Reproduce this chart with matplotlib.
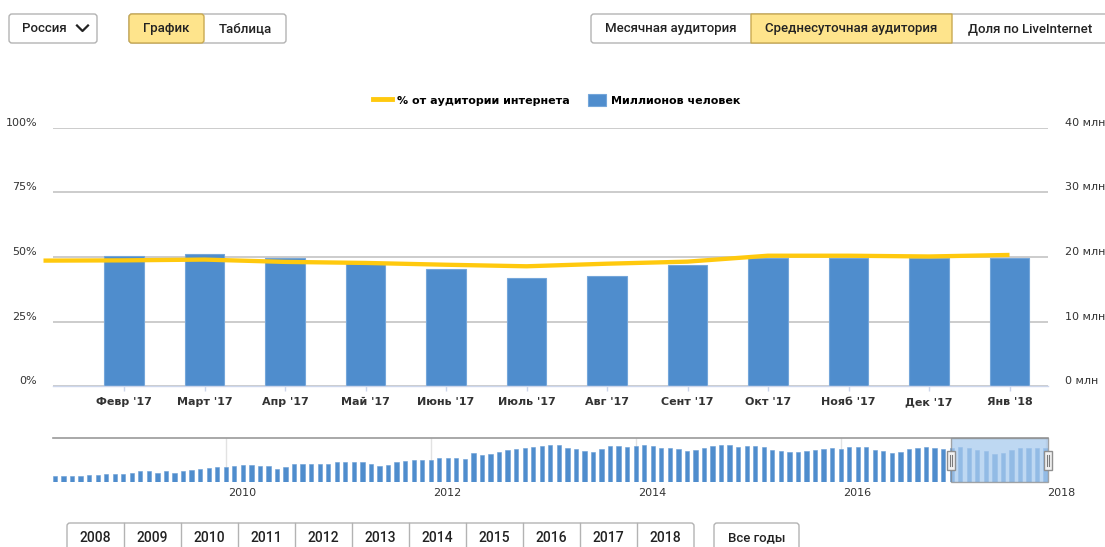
import matplotlib
matplotlib.use("Agg")
import matplotlib.pyplot as plt
import matplotlib.transforms as mtransforms
from matplotlib.patches import FancyBboxPatch, Rectangle
from matplotlib.lines import Line2D

W, H = 1105, 547

# main chart: average daily audience, Feb 2017 - Jan 2018
months = ["Февр '17", "Март '17", "Апр '17", "Май '17", "Июнь '17", "Июль '17",
          "Авг '17", "Сент '17", "Окт '17", "Нояб '17", "Дек '17", "Янв '18"]
audience_mln = [20.1, 20.4, 19.8, 19.1, 18.2, 16.7, 17.1, 18.8, 19.8, 19.8, 19.8, 19.8]
share_prev = 48.6  # Янв '17, only the tail of the line is visible
share_pct = [48.7, 49.0, 48.1, 47.7, 47.0, 46.4, 47.4, 48.2, 50.5, 50.5, 50.2, 50.8]

pct_ticks = [0, 25, 50, 75, 100]
pct_labels = ["0%", "25%", "50%", "75%", "100%"]
mln_ticks = [0, 10, 20, 30, 40]
mln_labels = ["0 млн", "10 млн", "20 млн", "30 млн", "40 млн"]

# navigator: monthly values, May 2008 - Jan 2018
nav_mln = [
    3.5, 3.5, 3.5, 3.5, 4.3, 4.3, 4.9, 4.9, 4.9, 5.5, 6.3, 6.3,
    5.5, 6.3, 5.5, 6.3, 6.9, 7.4, 8.0, 8.6,
    8.6, 9.4, 9.8, 9.8, 9.2, 9.2, 7.8, 8.6, 10.4, 10.4, 10.8, 10.8,
    10.8, 11.8, 11.8, 11.8, 11.8, 10.8, 9.4, 10.2, 11.8, 12.3, 12.9, 12.9,
    12.9, 14.1, 14.1, 14.1, 13.3, 17.2, 15.7, 16.5, 17.8, 18.8, 19.6, 20.2,
    20.8, 21.4, 22.0, 22.0, 20.2, 19.6, 18.4, 17.6, 19.6, 21.4, 21.4, 20.8,
    21.4, 22.0, 21.4, 20.2, 20.2, 19.6, 18.4, 19.0, 20.2, 21.4, 22.0, 22.0,
    20.8, 21.4, 21.4, 20.8, 19.0, 18.4, 17.8, 17.8, 18.4, 19.0, 19.6, 20.2,
    19.6, 20.8, 20.8, 20.8, 19.0, 18.4, 17.2, 17.8, 19.6, 20.2, 20.8, 20.2,
    19.6, 20.1, 20.4, 19.8, 19.1, 18.2, 16.7, 17.1, 18.8, 19.8, 19.8, 19.8,
    19.8,
]
nav_start_year, nav_start_month = 2008, 5
nav_years = [2010, 2012, 2014, 2016, 2018]

year_buttons = ["2008", "2009", "2010", "2011", "2012", "2013",
                "2014", "2015", "2016", "2017", "2018"]

BLUE = "#4f8dcd"
YELLOW = "#ffc90e"
TEXT = "#222222"

fig = plt.figure(figsize=(W / 100, H / 100), dpi=100)
px = mtransforms.Affine2D().scale(1 / W, -1 / H).translate(0, 1) + fig.transFigure


def ax_rect(x0, y0, x1, y1):
    return [x0 / W, 1 - y1 / H, (x1 - x0) / W, (y1 - y0) / H]


def box(x0, y0, x1, y1, fc="white", ec="#b3b3b3", r=3, lw=1.0, z=1):
    fig.add_artist(FancyBboxPatch((x0, y0), x1 - x0, y1 - y0,
                                  boxstyle=f"round,pad=0,rounding_size={r}",
                                  transform=px, fc=fc, ec=ec, lw=lw, zorder=z))


def vline(x, y0, y1, color="#b3b3b3", lw=1.0, z=2):
    fig.add_artist(Line2D([x, x], [y0, y1], transform=px, color=color, lw=lw, zorder=z))


def label(x, y, s, size=9.5, weight="medium", ha="center"):
    fig.text(x, y, s, transform=px, ha=ha, va="center", fontsize=size,
             fontweight=weight, color=TEXT, family=["Roboto", "DejaVu Sans"], zorder=5)


# ---- top controls
box(9, 14, 97, 43)
label(44, 28.5, "Россия")
fig.add_artist(Line2D([77, 82.5, 88], [25.5, 31, 25.5], transform=px,
                      color=TEXT, lw=1.6, zorder=5))

box(129, 14, 286, 43)
box(129, 14, 204, 43, fc="#fee48c", ec="#c9aa52", z=2)
label(166.5, 28.5, "График")
label(245, 28.5, "Таблица")

box(591, 14, 1112, 43)
box(751, 14, 952, 43, fc="#fee48c", ec="#c9aa52", r=0.5, z=2)
label(671, 28.5, "Месячная аудитория")
label(851.5, 28.5, "Среднесуточная аудитория")
label(1030, 28.5, "Доля по LiveInternet")

# ---- main chart
ax = fig.add_axes(ax_rect(53, 128, 1048, 386))
ax2 = ax.twinx()
x = list(range(len(months)))
ax.bar(x, audience_mln, width=0.49, color=BLUE, edgecolor="#74a6da", linewidth=0.8, zorder=2)
ax.set_xlim(-0.882, 11.478)
ax.set_ylim(0, 40)
ax.set_xticks(x)
ax.set_xticklabels(months, fontsize=8, fontweight="bold", color="#333333")
ax.yaxis.tick_right()
ax.set_yticks(mln_ticks)
ax.set_yticklabels(mln_labels, fontsize=8, color="#333333")
ax.tick_params(axis="y", length=0, pad=12.2)
ax.tick_params(axis="x", length=3.6, width=1, color="#ccd6eb", pad=4.5)
for lbl in ax.get_yticklabels():
    lbl.set_va("bottom")
ax.grid(axis="y", color="#c4c4c4", linewidth=1.2)
ax.set_axisbelow(True)
for side in ["top", "left", "right"]:
    ax.spines[side].set_visible(False)
ax.spines["bottom"].set_color("#ccd6eb")
ax.spines["bottom"].set_linewidth(1.0)
ax.spines["bottom"].set_zorder(3)

ax2.plot([-1] + x, [share_prev] + share_pct, color=YELLOW, lw=3.1,
         solid_capstyle="butt", solid_joinstyle="round", clip_on=False, zorder=4)
ax2.set_ylim(0, 100)
ax2.yaxis.tick_left()
ax2.set_yticks(pct_ticks)
ax2.set_yticklabels(pct_labels, fontsize=8, color="#333333")
ax2.tick_params(axis="y", length=0, pad=11.5)
for lbl in ax2.get_yticklabels():
    lbl.set_va("bottom")
for side in ["top", "left", "right", "bottom"]:
    ax2.spines[side].set_visible(False)

handles = [Line2D([], [], color=YELLOW, lw=3.5),
           Rectangle((0, 0), 1, 1, fc=BLUE, ec="#74a6da", lw=0.8)]
fig.legend(handles, ["% от аудитории интернета", "Миллионов человек"],
           loc="center", bbox_to_anchor=(557 / W, 1 - 100 / H), ncol=2,
           frameon=False, prop={"weight": "bold", "size": 8},
           handlelength=1.7, handleheight=1.3, handletextpad=0.45, columnspacing=1.6)

# ---- navigator
nav = fig.add_axes(ax_rect(53, 438, 1048, 482))
nx = list(range(len(nav_mln)))
nav.bar(nx, nav_mln, width=0.5, color=BLUE, edgecolor="#6b9fd6", linewidth=0.4, zorder=2)
nav.set_xlim(-0.23, 116.28)
nav.set_ylim(0, 26)
year_idx = [(y - nav_start_year) * 12 + 1 - nav_start_month for y in nav_years]
nav.set_xticks(year_idx)
nav.set_xticklabels([str(y) for y in nav_years], fontsize=8, color="#333333")
nav.tick_params(axis="x", length=0, pad=4.5)
nav.set_yticks([])
offset = mtransforms.ScaledTranslation(2 / 100, 0, fig.dpi_scale_trans)
for lbl in nav.get_xticklabels():
    lbl.set_ha("left")
    lbl.set_transform(lbl.get_transform() + offset)
nav.grid(axis="x", color="#e2e2e2", linewidth=1)
nav.set_axisbelow(True)
for side in ["left", "right", "bottom"]:
    nav.spines[side].set_visible(False)
nav.spines["top"].set_color("#9a9a9a")
nav.spines["top"].set_linewidth(1.2)

sel_start = 104.9
nav.add_patch(Rectangle((sel_start, 0.2), 116.28 - sel_start, 25.6,
                        fc="#a9cbee", ec="#8a8a8a", lw=1.0, alpha=0.75, zorder=3,
                        clip_on=False))
for hx in (951, 1048):
    fig.add_artist(Rectangle((hx - 4, 451), 8, 19, transform=px,
                             fc="#f2f2f2", ec="#8f8f8f", lw=1, zorder=6))
    for dx in (-1.2, 1.2):
        fig.add_artist(Line2D([hx + dx, hx + dx], [455, 466], transform=px,
                              color="#7a7a7a", lw=0.8, zorder=7))

# ---- year buttons
box(67, 523, 694, 562)
for k, yr in enumerate(year_buttons):
    if k:
        vline(67 + 57 * k, 523, 547)
    label(67 + 57 * k + 28.5, 537.5, yr, size=10)
box(714, 523, 799, 562)
label(756.5, 537.5, "Все годы")

fig.savefig("out.png", dpi=100)
